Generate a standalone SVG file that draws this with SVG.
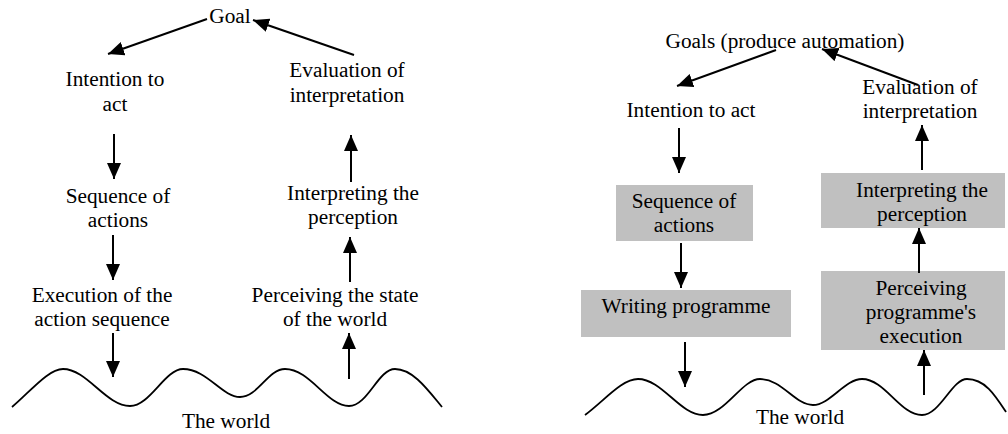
<svg xmlns="http://www.w3.org/2000/svg" width="1008" height="434" viewBox="0 0 1008 434">
<style>
text{font-family:'Liberation Serif','Times New Roman','DejaVu Serif',serif;font-size:21.3px;fill:#000;text-anchor:middle}
.c line{stroke:#000;stroke-width:2;marker-end:url(#ah)}
.w{fill:none;stroke:#000;stroke-width:1.8}
.box{fill:#c0c0c0}
</style>
<defs>
<marker id="ah" markerUnits="userSpaceOnUse" markerWidth="16" markerHeight="14" refX="16" refY="7" orient="auto" viewBox="0 0 16 14">
<path d="M0,0 L16,7 L0,14 z" fill="#000"/>
</marker>
</defs>
<rect width="1008" height="434" fill="#fff"/>
<g id="left-panel" font-family="Liberation Serif, serif">
<g id="l-goal"><text x="230" y="23">Goal</text></g>
<g id="l-intention"><text x="115" y="86">Intention to</text><text x="115" y="111">act</text></g>
<g id="l-sequence"><text x="118" y="203">Sequence of</text><text x="118" y="227">actions</text></g>
<g id="l-execution"><text x="102" y="302">Execution of the</text><text x="102" y="326">action sequence</text></g>
<g id="l-evaluation"><text x="347" y="77">Evaluation of</text><text x="347" y="102">interpretation</text></g>
<g id="l-interpreting"><text x="353" y="200">Interpreting the</text><text x="353" y="224">perception</text></g>
<g id="l-perceiving"><text x="335" y="302">Perceiving the state</text><text x="335" y="326">of the world</text></g>
<g id="l-world"><path class="w" d="M12,407 C30,392 48,369 63,369 C87,369 106,406 130,406 C150,406 165,369 183,369 C207,369 222,397 240,397 C258,397 268,369 285,369 C310,369 327,406 349,406 C368,406 378,369 395,369 C413,369 428,390 442,407"/><text x="226" y="428">The world</text></g>
</g>
<g id="right-panel" font-family="Liberation Serif, serif">
<g id="r-goals"><text x="785" y="48">Goals (produce automation)</text></g>
<g id="r-intention"><text x="691" y="117">Intention to act</text></g>
<g id="r-sequence"><rect class="box" x="616" y="185" width="137" height="56"/><text x="684" y="208">Sequence of</text><text x="684" y="232">actions</text></g>
<g id="r-writing"><rect class="box" x="581" y="290" width="210" height="47"/><text x="686" y="313">Writing programme</text></g>
<g id="r-interpreting"><rect class="box" x="821" y="173" width="184" height="55"/><text x="922" y="197">Interpreting the</text><text x="922" y="221">perception</text></g>
<g id="r-perceiving"><rect class="box" x="821" y="271" width="184" height="79"/><text x="921" y="295">Perceiving</text><text x="921" y="319">programme's</text><text x="921" y="343">execution</text></g>
<g id="r-evaluation"><text x="920" y="94">Evaluation of</text><text x="920" y="118">interpretation</text></g>
<g id="r-world"><path class="w" d="M585,415 C605,400 622,379 638,379 C662,379 680,415 703,415 C725,415 742,379 760,379 C782,379 795,405 813,405 C830,405 845,379 862,379 C885,379 900,415 922,415 C940,415 952,379 967,379 C985,379 995,395 1006,412"/><text x="800" y="424">The world</text></g>
</g>
<g id="connectors" class="c">
<line x1="207" y1="19" x2="108" y2="54"/>
<line x1="354" y1="55" x2="253" y2="20"/>
<line x1="114" y1="134" x2="114" y2="179"/>
<line x1="113" y1="235" x2="113" y2="280"/>
<line x1="113" y1="333" x2="113" y2="377"/>
<line x1="351" y1="182" x2="351" y2="135"/>
<line x1="350" y1="282" x2="350" y2="237"/>
<line x1="349" y1="379" x2="349" y2="333"/>
<line x1="776" y1="50" x2="677" y2="86"/>
<line x1="918" y1="85" x2="822" y2="49"/>
<line x1="679" y1="128" x2="679" y2="173"/>
<line x1="681" y1="243" x2="681" y2="288"/>
<line x1="685" y1="342" x2="685" y2="387"/>
<line x1="922" y1="170" x2="922" y2="125"/>
<line x1="919" y1="273" x2="919" y2="228"/>
<line x1="924" y1="395" x2="924" y2="350"/>
</g>
</svg>
